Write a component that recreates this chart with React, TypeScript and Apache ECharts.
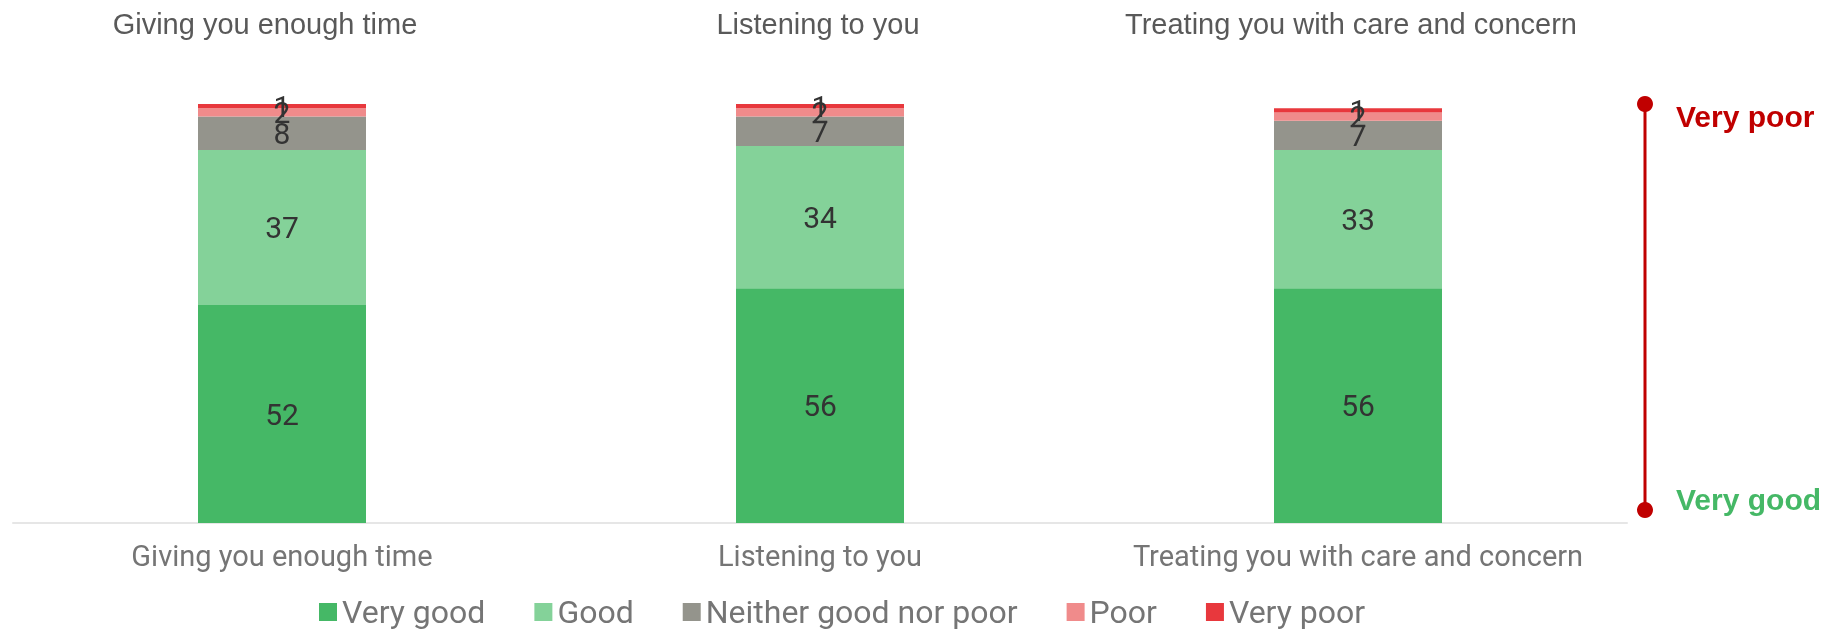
import React, { useEffect, useRef } from "react";
import * as echarts from "echarts";

const categories = [
  "Giving you enough time",
  "Listening to you",
  "Treating you with care and concern",
];
const seriesNames = ["Very good", "Good", "Neither good nor poor", "Poor", "Very poor"];
const veryGood = [52, 56, 56];
const good = [37, 34, 33];
const neither = [8, 7, 7];
const poor = [2, 2, 2];
const veryPoor = [1, 1, 1];
const seriesColors = ["#45b866", "#84d299", "#94948c", "#f08b8b", "#e8383d"];
const scaleTop = "Very poor";
const scaleBottom = "Very good";

export default function App() {
  const ref = useRef<HTMLDivElement>(null);

  useEffect(() => {
    document.body.style.margin = "0";
    const chart = echarts.init(ref.current!, null, { renderer: "svg" });
    const values = [veryGood, good, neither, poor, veryPoor];
    const titleX = [265, 818, 1351];

    chart.setOption({
      animation: false,
      grid: { left: 13, right: 219, top: 104, bottom: 107 },
      legend: {
        data: seriesNames,
        left: 319,
        top: 596,
        padding: 0,
        icon: "rect",
        itemWidth: 18,
        itemHeight: 18,
        itemGap: 49,
        textStyle: { fontFamily: "Roboto", fontSize: 32, color: "#757575" },
      },
      xAxis: {
        type: "category",
        data: categories,
        axisLine: { lineStyle: { color: "#e6e6e6", width: 2 } },
        axisTick: { show: false },
        axisLabel: {
          interval: 0,
          margin: 18,
          fontFamily: "Roboto",
          fontSize: 29,
          color: "#757575",
        },
      },
      yAxis: {
        type: "value",
        min: 0,
        max: 100,
        show: false,
        splitLine: { show: false },
      },
      series: seriesNames.map((name, i) => ({
        name,
        type: "bar",
        stack: "total",
        barWidth: 168,
        data: values[i],
        itemStyle: { color: seriesColors[i] },
        label: {
          show: true,
          position: "inside",
          fontFamily: "Roboto",
          fontSize: 30,
          color: "#333333",
        },
      })),
      graphic: [
        ...categories.map((c, i) => ({
          type: "text",
          x: titleX[i],
          y: 24,
          style: {
            text: c,
            textAlign: "center",
            textVerticalAlign: "middle",
            fontFamily: "Liberation Sans",
            fontSize: 29,
            fill: "#595959",
          },
        })),
        {
          type: "line",
          shape: { x1: 1645, y1: 104, x2: 1645, y2: 510 },
          style: { stroke: "#c00000", lineWidth: 3 },
        },
        { type: "circle", shape: { cx: 1645, cy: 104, r: 8 }, style: { fill: "#c00000" } },
        { type: "circle", shape: { cx: 1645, cy: 510, r: 8 }, style: { fill: "#c00000" } },
        {
          type: "text",
          x: 1676,
          y: 116,
          style: {
            text: scaleTop,
            textVerticalAlign: "middle",
            fontFamily: "Liberation Sans",
            fontWeight: "bold",
            fontSize: 30,
            fill: "#c00000",
          },
        },
        {
          type: "text",
          x: 1676,
          y: 499,
          style: {
            text: scaleBottom,
            textVerticalAlign: "middle",
            fontFamily: "Liberation Sans",
            fontWeight: "bold",
            fontSize: 30,
            fill: "#45b866",
          },
        },
      ],
    });
    return () => chart.dispose();
  }, []);

  return (
    <div
      ref={ref}
      style={{ position: "fixed", left: 0, top: 0, width: 1846, height: 630 }}
    />
  );
}
